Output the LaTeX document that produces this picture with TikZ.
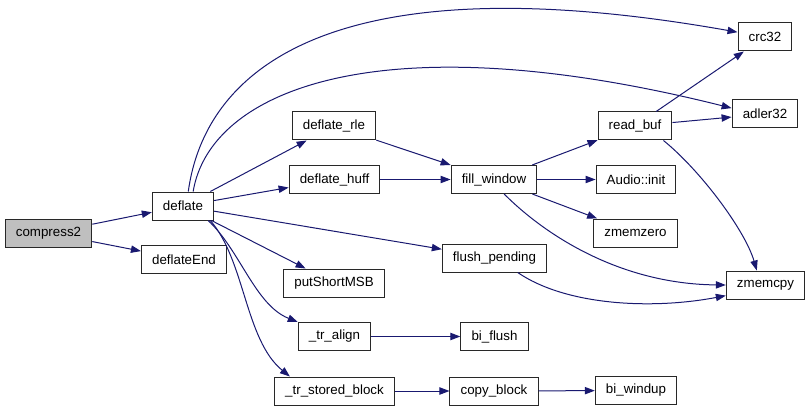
\documentclass[tikz,border=0pt]{standalone}
\usepackage{fontspec}
\setmainfont{Liberation Sans}
\usetikzlibrary{arrows.meta}
\definecolor{cgedge}{RGB}{25,25,112}
\definecolor{cgborder}{RGB}{40,40,40}
\definecolor{cgroot}{RGB}{191,191,191}
\tikzset{
  fnbox/.style   = {rectangle, draw=cgborder, line width=0.75pt, fill=white,
                    text=black, minimum height=21pt, inner xsep=8pt, inner ysep=2pt,
                    font=\fontsize{10}{12}\selectfont},
  rootbox/.style = {fnbox, fill=cgroot},
  call/.style    = {-{Triangle[length=7.5pt,width=5.5pt]}, line width=0.75pt, draw=cgedge},
}

\begin{document}
\begin{tikzpicture}[x=0.75pt, y=-0.75pt]
\useasboundingbox (0,0) rectangle (811,410);

% ---------- Caller column ----------
\node[rootbox] (compress2) at (48.5,233) {compress2};
\node[fnbox] (deflate) at (183,206) {deflate};
\node[fnbox] (deflateEnd) at (184,259.5) {deflateEnd};

% ---------- Middle columns ----------
\node[fnbox] (deflate_rle) at (334,126) {deflate\_rle};
\node[fnbox] (deflate_huff) at (334.5,179.5) {deflate\_huff};
\node[fnbox] (putShortMSB) at (334,283) {putShortMSB};
\node[fnbox] (tr_align) at (334.5,336.5) {\_tr\_align};
\node[fnbox] (tr_stored_block) at (334.5,391) {\_tr\_stored\_block};
\node[fnbox] (fill_window) at (494,179.5) {fill\_window};
\node[fnbox] (flush_pending) at (494.5,258) {flush\_pending};
\node[fnbox] (bi_flush) at (494.5,336.5) {bi\_flush};
\node[fnbox] (copy_block) at (494,391) {copy\_block};

% ---------- Leaf columns ----------
\node[fnbox] (read_buf) at (635,126) {read\_buf};
\node[fnbox] (audioinit) at (636,179.5) {Audio::init};
\node[fnbox] (zmemzero) at (635.5,233) {zmemzero};
\node[fnbox] (bi_windup) at (636,390.5) {bi\_windup};
\node[fnbox] (crc32) at (765,37) {crc32};
\node[fnbox] (adler32) at (765,114) {adler32};
\node[fnbox] (zmemcpy) at (765.5,285) {zmemcpy};

% ---------- Edges: compress2 / deflate ----------
\draw[call] (compress2) -- (deflate);
\draw[call] (compress2) -- (deflateEnd);
\draw[call] (deflate.70) .. controls (205,70) and (330,-40) .. (crc32.170);
\draw[call] (deflate.55) .. controls (210,90) and (380,20) .. (adler32.170);
\draw[call] (deflate) -- (deflate_rle);
\draw[call] (deflate) -- (deflate_huff);
\draw[call] (deflate) -- (flush_pending);
\draw[call] (deflate) -- (putShortMSB);
\draw[call] (deflate.-30) .. controls (240,250) and (255,305) .. (tr_align.north west);
\draw[call] (deflate.-28) .. controls (245,260) and (245,340) .. (tr_stored_block.162);

% ---------- Edges: window / buffers ----------
\draw[call] (deflate_rle) -- (fill_window);
\draw[call] (deflate_huff) -- (fill_window);
\draw[call] (fill_window) -- (read_buf);
\draw[call] (fill_window) -- (audioinit);
\draw[call] (fill_window) -- (zmemzero);
\draw[call] (fill_window.-55) .. controls (545,235) and (620,284) .. (zmemcpy.west);
\draw[call] (flush_pending.-32) .. controls (565,305) and (650,310) .. (zmemcpy.-165);
\draw[call] (read_buf) -- (crc32);
\draw[call] (read_buf) -- (adler32);
\draw[call] (read_buf.-27) .. controls (700,170) and (745,230) .. (zmemcpy.121);
\draw[call] (tr_align) -- (bi_flush);
\draw[call] (tr_stored_block) -- (copy_block);
\draw[call] (copy_block) -- (bi_windup);

\end{tikzpicture}
\end{document}
